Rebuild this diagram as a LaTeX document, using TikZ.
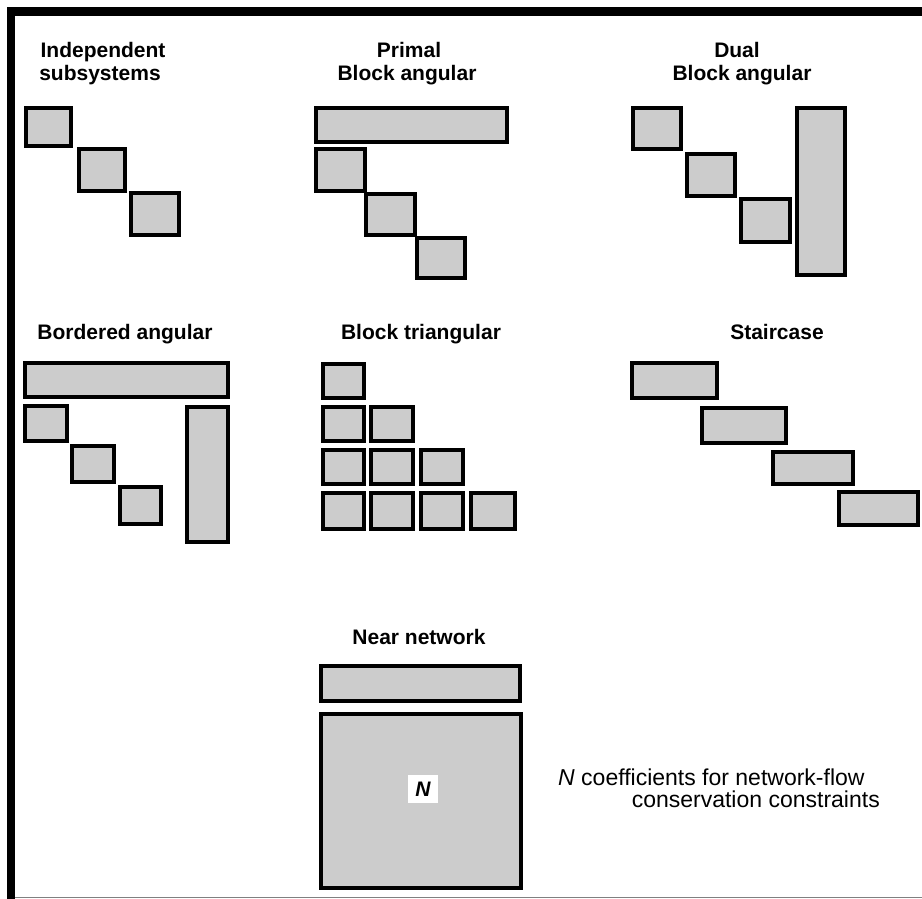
\documentclass[tikz,border=0pt]{standalone}
\usepackage{fontspec}
\setmainfont{Liberation Sans}
\newcommand\blkrect[4]{\draw[blk] ({#1+2},{#2+2}) rectangle ({#3-2},{#4-2});}
\begin{document}
\begin{tikzpicture}[x=1pt,y=-1pt,
  blk/.style={draw=black, line width=4pt, fill=gray!40},
  ttl/.style={font=\fontsize{21}{25}\selectfont\bfseries, anchor=base, inner sep=0pt},
  note/.style={font=\fontsize{23}{27}\selectfont, inner sep=0pt}]
\useasboundingbox (0,0) rectangle (922,899);
\fill[white] (0,0) rectangle (922,899);
% frame
\fill[black] (7,7) rectangle (922,16);
\fill[black] (7,7) rectangle (15,899);
\draw[gray, line width=1.2pt] (15,897.5) -- (922,897.5);
% Independent subsystems
\node[ttl] (t1a) at (103,58) {Independent};
\node[ttl] (t1b) at (100,81) {subsystems};
\blkrect{24}{106}{73}{148}
\blkrect{77}{147}{127}{193}
\blkrect{129}{191}{181}{237}
% Primal block angular
\node[ttl] (t2a) at (409,58) {Primal};
\node[ttl] (t2b) at (407,81) {Block angular};
\blkrect{314}{106}{509}{144}
\blkrect{314}{147}{367}{193}
\blkrect{364}{192}{417}{237}
\blkrect{415}{236}{467}{280}
% Dual block angular
\node[ttl] (t3a) at (737,58) {Dual};
\node[ttl] (t3b) at (742,81) {Block angular};
\blkrect{631}{106}{683}{151}
\blkrect{685}{152}{737}{198}
\blkrect{739}{197}{792}{244}
\blkrect{795}{106}{847}{277}
% Bordered angular
\node[ttl] (t4) at (125,339) {Bordered angular};
\blkrect{23}{361}{230}{399}
\blkrect{23}{404}{69}{443}
\blkrect{70}{444}{116}{484}
\blkrect{118}{485}{163}{526}
\blkrect{185}{405}{230}{544}
% Block triangular
\node[ttl] (t5) at (421,339) {Block triangular};
\foreach \r/\ya/\yb in {1/362/400,2/405/443,3/448/486,4/491/531}{
  \foreach \c/\xa/\xb in {1/321/366,2/369/415,3/419/465,4/469/517}{
    \ifnum\c>\r\else\blkrect{\xa}{\ya}{\xb}{\yb}\fi
  }
}
% Staircase
\node[ttl] (t6) at (777,339) {Staircase};
\blkrect{630}{361}{719}{400}
\blkrect{700}{406}{788}{445}
\blkrect{771}{450}{855}{486}
\blkrect{837}{490}{920}{527}
% Near network
\node[ttl] (t7) at (419,644) {Near network};
\blkrect{319}{664}{522}{703}
\blkrect{319}{712}{523}{890}
\node[fill=white, minimum width=30pt, minimum height=28pt, inner sep=0pt,
  font=\fontsize{21}{25}\selectfont\bfseries\itshape] (nlab) at (423,789) {N};
% annotation
\node[note, anchor=base west] (n1) at (558,785) {\textit{N} coefficients for network-flow};
\node[note, anchor=base east] (n2) at (880,807) {conservation constraints};
\end{tikzpicture}
\end{document}
